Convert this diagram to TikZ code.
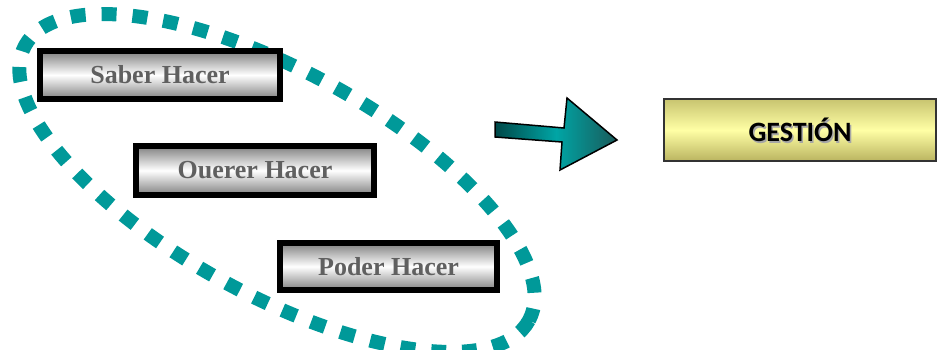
\documentclass[tikz,border=0pt]{standalone}
\usepackage{fontspec}
\setmainfont{Liberation Serif}
\newfontfamily\calfont{Carlito}
\definecolor{tealdash}{RGB}{0,153,153}
\definecolor{boxtext}{RGB}{96,96,96}
\definecolor{tealdark}{RGB}{0,72,72}
\definecolor{tealmid}{RGB}{0,165,165}
\definecolor{khakitop}{RGB}{200,196,112}
\definecolor{khakimid}{RGB}{255,255,165}
\definecolor{khakibot}{RGB}{186,180,96}
\tikzset{
  skillbox/.style={draw=black, line width=6pt, inner sep=0pt,
    shading=axis, top color=black!50, bottom color=black!50, middle color=white,
    text=boxtext, font=\fontsize{26}{30}\selectfont\bfseries},
  goalbox/.style={draw=black!80, line width=2pt, inner sep=0pt,
    shading=axis, top color=khakitop, bottom color=khakibot, middle color=khakimid,
    font=\calfont\fontsize{28}{32}\selectfont\bfseries},
  groupring/.style={draw=tealdash, line width=14pt, dash pattern=on 15pt off 16pt},
  blockarrow/.style={draw=black, line width=1.5pt, line join=miter,
    shading=axis, left color=tealdark, right color=tealdark!90, middle color=tealmid}
}
\begin{document}
\begin{tikzpicture}[x=1pt, y=-1pt]
\useasboundingbox (0,0) rectangle (938,349);

% dotted ring grouping the three skills
\draw[groupring, rotate around={-28.6:(277,183)}] (277,183) ellipse [x radius=287, y radius=112];

% the three skill boxes
\node[skillbox, minimum width=240pt, minimum height=48pt] (saber) at (160,75) {Saber Hacer};
\node[skillbox, minimum width=238pt, minimum height=49pt] (querer) at (255,170.5) {Ouerer Hacer};
\node[skillbox, minimum width=217pt, minimum height=47pt] (poder) at (388.5,266.5) {Poder Hacer};

% block arrow pointing to the goal
\path[blockarrow] (495,122) -- (564,128) -- (567,98) -- (617,140) -- (560,170)
  -- (562,142) -- (495,137) -- cycle;

% goal box
\node[goalbox, minimum width=272pt, minimum height=62pt] (gestion) at (800,130) {};
\node[text=black!35, font=\calfont\fontsize{28}{32}\selectfont\bfseries] (gestionshadow)
  at ([xshift=1.5pt, yshift=-1.5pt]gestion.center) {GESTIÓN};
\node[text=black, font=\calfont\fontsize{28}{32}\selectfont\bfseries] (gestiontext)
  at (gestion.center) {GESTIÓN};
\end{tikzpicture}
\end{document}
